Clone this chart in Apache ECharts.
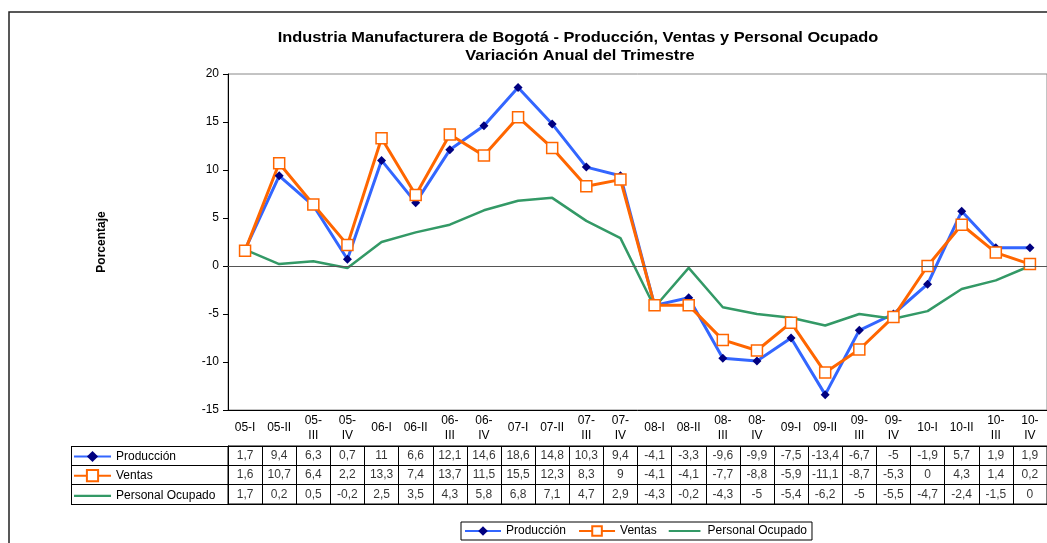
<!DOCTYPE html>
<html>
<head>
<meta charset="utf-8">
<script src="https://cdn.jsdelivr.net/npm/echarts@6/dist/echarts.min.js"></script>
<style>
  html, body { margin: 0; padding: 0; background: #fff; }
  #main { width: 1047px; height: 543px; }
</style>
</head>
<body>
<div id="main"></div>
<script>
var trimestres = ['05-I', '05-II', '05-III', '05-IV', '06-I', '06-II', '06-III', '06-IV',
    '07-I', '07-II', '07-III', '07-IV', '08-I', '08-II', '08-III', '08-IV',
    '09-I', '09-II', '09-III', '09-IV', '10-I', '10-II', '10-III', '10-IV'];
var produccion = [1.7, 9.4, 6.3, 0.7, 11, 6.6, 12.1, 14.6, 18.6, 14.8, 10.3, 9.4,
    -4.1, -3.3, -9.6, -9.9, -7.5, -13.4, -6.7, -5, -1.9, 5.7, 1.9, 1.9];
var ventas = [1.6, 10.7, 6.4, 2.2, 13.3, 7.4, 13.7, 11.5, 15.5, 12.3, 8.3, 9,
    -4.1, -4.1, -7.7, -8.8, -5.9, -11.1, -8.7, -5.3, 0, 4.3, 1.4, 0.2];
var personal = [1.7, 0.2, 0.5, -0.2, 2.5, 3.5, 4.3, 5.8, 6.8, 7.1, 4.7, 2.9,
    -4.3, -0.2, -4.3, -5, -5.4, -6.2, -5, -5.5, -4.7, -2.4, -1.5, 0];
var filas = ['Producción', 'Ventas', 'Personal Ocupado'];

var fuente = 'Arial, "Liberation Sans", sans-serif';

// celdas de la tabla de datos: [columna, fila, valor]
var celdas = [];
[produccion, ventas, personal].forEach(function (serie, f) {
    serie.forEach(function (v, i) { celdas.push([i, f, v]); });
});

// icono de solo linea para Personal Ocupado (sin marcador)
var iconoLinea = 'path://M0,0L0,0M0,5.8L37,5.8L37,8.2L0,8.2ZM37,14L37,14';
var itemsLeyenda = [
    { name: 'Producción' },
    { name: 'Ventas' },
    { name: 'Personal Ocupado', icon: iconoLinea }
];

var myChart = echarts.init(document.getElementById('main'));

var option = {
    animation: false,
    textStyle: { fontFamily: fuente },
    graphic: [
        { type: 'rect', shape: { x: 9, y: 12, width: 1200, height: 700 },
          style: { fill: 'none', stroke: '#222', lineWidth: 1.5 }, silent: true },
        { type: 'text', x: 578, y: 31, scaleX: 1.17,
          style: { text: 'Industria Manufacturera de Bogotá - Producción, Ventas y Personal Ocupado',
                   textAlign: 'center', font: 'bold 14px ' + fuente, fill: '#000' } },
        { type: 'text', x: 580, y: 49, scaleX: 1.17,
          style: { text: 'Variación Anual del Trimestre',
                   textAlign: 'center', font: 'bold 14px ' + fuente, fill: '#000' } },
        { type: 'line', shape: { x1: 71.5, y1: 446, x2: 71.5, y2: 504 },
          style: { stroke: '#000', lineWidth: 1 }, silent: true }
    ],
    legend: [
        {
            data: itemsLeyenda,
            orient: 'vertical',
            left: 73, top: 450.5,
            padding: 0,
            itemWidth: 37, itemHeight: 14, itemGap: 6.6,
            textStyle: { fontSize: 12, color: '#000', fontFamily: fuente }
        },
        {
            data: itemsLeyenda,
            left: 461, top: 522,
            padding: [3, 5, 3, 3],
            borderColor: '#000', borderWidth: 1,
            itemWidth: 36, itemHeight: 12, itemGap: 12,
            textStyle: { fontSize: 12, color: '#000', fontFamily: fuente }
        }
    ],
    grid: [
        { left: 228, top: 74, width: 822, height: 336, show: true,
          borderColor: '#888', borderWidth: 1, backgroundColor: 'transparent' },
        { left: 228, top: 446, width: 822, height: 58, show: true,
          borderColor: '#000', borderWidth: 1, backgroundColor: 'transparent' }
    ],
    xAxis: [
        {
            type: 'category', gridIndex: 0, data: trimestres,
            axisLine: { onZero: false, lineStyle: { color: '#000' } },
            axisTick: { interval: 0, length: 36, lineStyle: { color: '#000' } },
            axisLabel: {
                interval: 0, fontSize: 12, color: '#000', margin: 18,
                verticalAlign: 'middle', lineHeight: 15,
                formatter: function (v) { return v.replace(/-(III|IV)$/, '-\n$1'); }
            }
        },
        {
            type: 'category', gridIndex: 1, data: trimestres,
            axisLine: { show: false }, axisTick: { show: false }, axisLabel: { show: false },
            splitLine: { show: true, interval: 0, lineStyle: { color: '#000' } }
        }
    ],
    yAxis: [
        {
            type: 'value', gridIndex: 0, min: -15, max: 20, interval: 5,
            name: 'Porcentaje', nameLocation: 'middle', nameGap: 120,
            nameTextStyle: { fontSize: 12, fontWeight: 'bold', color: '#000' },
            axisLine: { show: true, lineStyle: { color: '#000' } },
            axisTick: { show: true, length: 5, lineStyle: { color: '#000' } },
            axisLabel: { fontSize: 12, color: '#000', margin: 9 },
            splitLine: { show: false }
        },
        {
            type: 'category', gridIndex: 1, data: filas, inverse: true,
            axisLine: { show: true, lineStyle: { color: '#000' } },
            axisTick: { show: true, interval: 0, length: 157, lineStyle: { color: '#000' } },
            axisLabel: { show: false },
            splitLine: { show: true, interval: 0, lineStyle: { color: '#000' } }
        }
    ],
    series: [
        {
            name: 'Producción', type: 'line', data: produccion,
            xAxisIndex: 0, yAxisIndex: 0,
            symbol: 'diamond', symbolSize: 9,
            itemStyle: { color: '#000080' },
            lineStyle: { color: '#3366FF', width: 3 },
            markLine: {
                silent: true, symbol: 'none', label: { show: false },
                lineStyle: { color: '#555', width: 1, type: 'solid' },
                data: [{ yAxis: 0 }]
            }
        },
        {
            name: 'Ventas', type: 'line', data: ventas,
            xAxisIndex: 0, yAxisIndex: 0,
            symbol: 'rect', symbolSize: 11,
            itemStyle: { color: '#fff', borderColor: '#FF6600', borderWidth: 1.5 },
            lineStyle: { color: '#FF6600', width: 3 }
        },
        {
            name: 'Personal Ocupado', type: 'line', data: personal,
            xAxisIndex: 0, yAxisIndex: 0,
            showSymbol: false,
            itemStyle: { color: '#339966' },
            lineStyle: { color: '#339966', width: 2.5 }
        },
        {
            type: 'scatter', xAxisIndex: 1, yAxisIndex: 1,
            data: celdas, symbolSize: 1, silent: true,
            itemStyle: { color: 'rgba(0,0,0,0)' },
            label: {
                show: true, position: 'inside', fontSize: 12, color: '#000',
                formatter: function (p) { return String(p.data[2]).replace('.', ','); }
            }
        }
    ]
};

myChart.setOption(option);
</script>
</body>
</html>
